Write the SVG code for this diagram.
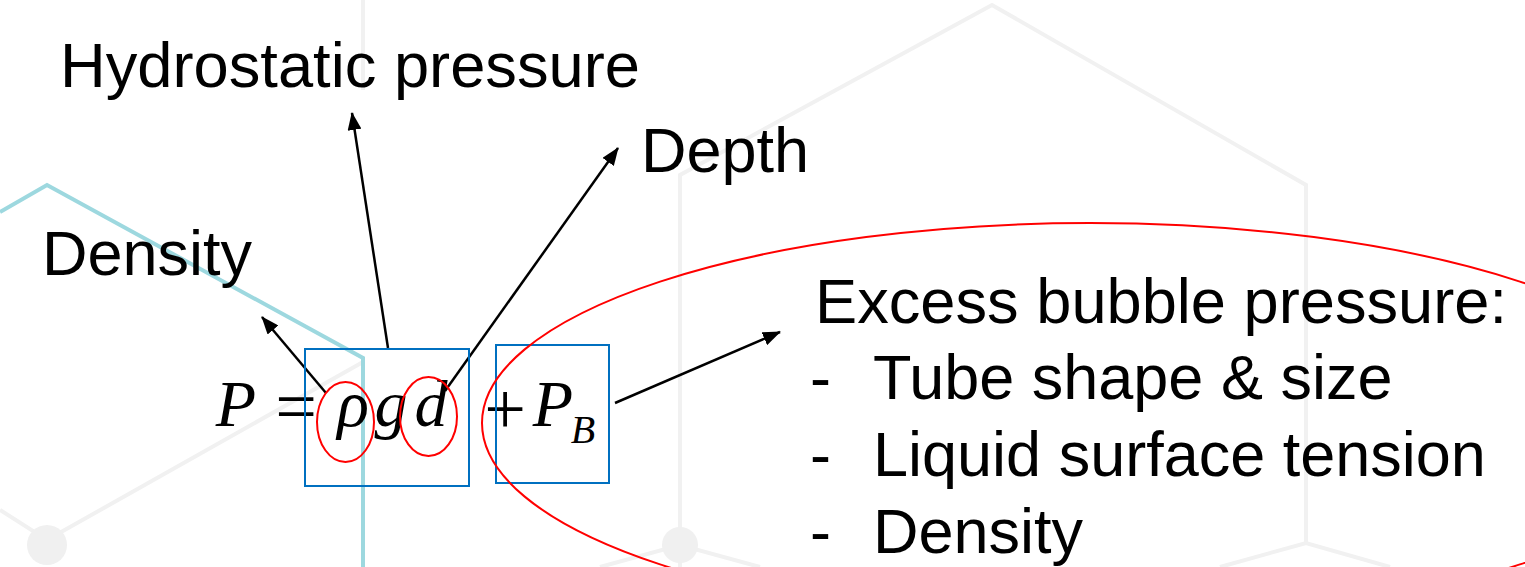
<svg xmlns="http://www.w3.org/2000/svg" width="1525" height="567" viewBox="0 0 1525 567">
<defs>
<marker id="ah" markerUnits="userSpaceOnUse" markerWidth="18" markerHeight="14" refX="17" refY="7" orient="auto">
<path d="M0,0 L18,7 L0,14 z" fill="#000"/>
</marker>
<style>
.lbl{font-family:"Liberation Sans",Arial,sans-serif;font-size:63px;fill:#000}
.math{font-family:"Liberation Serif","Times New Roman",serif;font-style:italic;font-size:66px;fill:#000}
.op{font-family:"Liberation Serif","Times New Roman",serif;font-size:74px;fill:#000}
.hex{fill:none;stroke:#f1f1f1;stroke-width:4}
.teal{fill:none;stroke:#9dd8df;stroke-width:4}
.conn{stroke:#000;stroke-width:2.5;fill:none}
.box{fill:none;stroke:#0070C0;stroke-width:2}
.ring{fill:none;stroke:#ff0000;stroke-width:2}
</style>
</defs>
<rect width="1525" height="567" fill="#fff"/>
<g id="background">
<polyline class="hex" points="680,567 680,175 992,5 1306,185 1306,543"/>
<polyline class="hex" points="600,567 680,545 760,567"/>
<polyline class="hex" points="1220,567 1306,543 1390,567"/>
<polyline class="hex" points="0,510 47,540 363,362"/>
<line class="hex" x1="363" y1="0" x2="363" y2="90"/>
<circle cx="47" cy="545" r="20" fill="#f0f0f0"/>
<circle cx="680" cy="545" r="18" fill="#f0f0f0"/>
<polyline class="teal" points="0,212 47,185 363,358 363,567"/>
</g>
<g id="connectors">
<line class="conn" x1="388" y1="348" x2="352" y2="113" marker-end="url(#ah)"/>
<line class="conn" x1="445" y1="391" x2="618" y2="148" marker-end="url(#ah)"/>
<line class="conn" x1="326" y1="393" x2="262" y2="317" marker-end="url(#ah)"/>
<line class="conn" x1="615" y1="403" x2="780" y2="332" marker-end="url(#ah)"/>
</g>
<g id="hydrostatic-label"><text class="lbl" x="60" y="87" textLength="580" lengthAdjust="spacingAndGlyphs">Hydrostatic pressure</text></g>
<g id="depth-label"><text class="lbl" x="641" y="172">Depth</text></g>
<g id="density-label"><text class="lbl" x="42" y="275">Density</text></g>
<g id="excess-label">
<text class="lbl" x="815" y="323" textLength="692" lengthAdjust="spacingAndGlyphs">Excess bubble pressure:</text>
<text class="lbl" x="810" y="399">-</text><text class="lbl" x="873" y="399">Tube shape &amp; size</text>
<text class="lbl" x="810" y="476">-</text><text class="lbl" x="873" y="476">Liquid surface tension</text>
<text class="lbl" x="810" y="553">-</text><text class="lbl" x="873" y="553">Density</text>
</g>
<g id="equation">
<text class="math" x="236" y="426" text-anchor="middle">P</text>
<text class="op" x="296" y="431" text-anchor="middle">=</text>
<text class="math" x="353" y="426" text-anchor="middle">ρ</text>
<text class="math" x="391" y="426" text-anchor="middle">g</text>
<text class="math" x="431" y="426" text-anchor="middle">d</text>
<text class="op" x="505" y="434" text-anchor="middle">+</text>
<text class="math" x="553" y="426" text-anchor="middle">P</text>
<text class="math" x="583" y="443" text-anchor="middle" style="font-size:40px">B</text>
</g>
<g id="hydro-box"><rect class="box" x="305" y="349" width="164" height="137"/></g>
<g id="bubble-box"><rect class="box" x="496" y="345" width="113" height="138"/></g>
<g id="rho-ring"><ellipse class="ring" cx="345.5" cy="422" rx="28.5" ry="40"/></g>
<g id="d-ring"><ellipse class="ring" cx="428.5" cy="416.5" rx="28.5" ry="39.5"/></g>
<g id="excess-ring"><ellipse class="ring" cx="1090" cy="423" rx="608" ry="200"/></g>
</svg>
